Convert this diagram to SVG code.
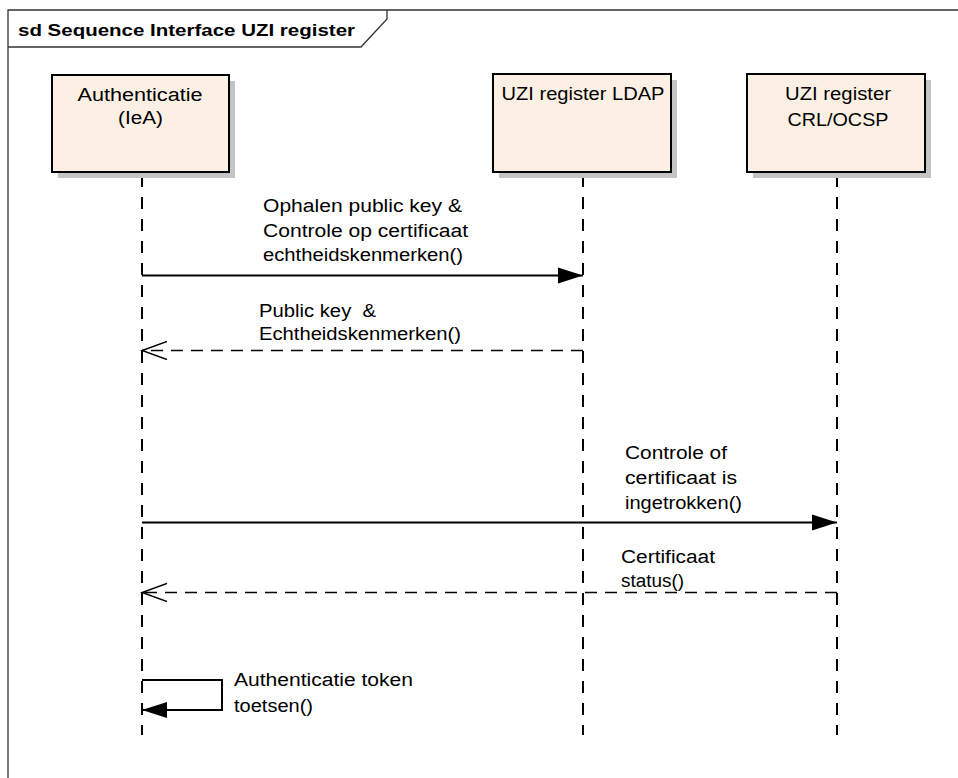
<svg xmlns="http://www.w3.org/2000/svg" width="958" height="778" viewBox="0 0 958 778">
<style>
  .t{font-family:"Liberation Sans",Arial,sans-serif;font-size:18px;fill:#000}
  .title{font-family:"Liberation Sans",Arial,sans-serif;font-size:17px;font-weight:bold;fill:#000}
  .box{fill:#FBF0E3;stroke:#000;stroke-width:2}
  .shadow{fill:#C4C4C4}
  .life{stroke:#000;stroke-width:2;stroke-dasharray:12 10;fill:none}
  .msg{stroke:#000;stroke-width:2;fill:none}
  .ret{stroke:#000;stroke-width:1.6;stroke-dasharray:12 8;fill:none}
  .frame{stroke:#333;stroke-width:1.3;fill:none}
</style>
<defs>
  <marker id="filled" markerUnits="userSpaceOnUse" markerWidth="27" markerHeight="18" refX="25" refY="8.5" orient="auto">
    <path d="M0,0.5 L25,8.5 L0,16.5 z" fill="#000"/>
  </marker>
  <marker id="open" markerUnits="userSpaceOnUse" markerWidth="27" markerHeight="20" refX="25" refY="9.5" orient="auto">
    <path d="M0,0.5 L25,9.5 L0,18.5" fill="none" stroke="#000" stroke-width="1.5"/>
  </marker>
</defs>
<rect width="958" height="778" fill="#fff"/>
<g id="frame">
  <path class="frame" d="M8,778 L8,10 L958,10"/>
  <path class="frame" d="M8,47 L361,47 L387,19 L387,10"/>
  <text class="title" x="18" y="36" textLength="337" lengthAdjust="spacingAndGlyphs">sd Sequence Interface UZI register</text>
</g>
<g id="lifelines">
  <line class="life" x1="142" y1="175" x2="142" y2="735"/>
  <line class="life" x1="583" y1="175" x2="583" y2="735"/>
  <line class="life" x1="837" y1="175" x2="837" y2="735"/>
</g>
<g id="node-authenticatie">
  <rect class="shadow" x="58" y="81" width="177" height="97"/>
  <rect class="box" x="52" y="75" width="177" height="97"/>
  <text class="t" x="140" y="101" text-anchor="middle" textLength="125" lengthAdjust="spacingAndGlyphs">Authenticatie</text>
  <text class="t" x="140.5" y="124" text-anchor="middle" textLength="45" lengthAdjust="spacingAndGlyphs">(IeA)</text>
</g>
<g id="node-ldap">
  <rect class="shadow" x="499" y="80" width="178" height="98"/>
  <rect class="box" x="493" y="74" width="178" height="98"/>
  <text class="t" x="583" y="99.5" text-anchor="middle" textLength="163" lengthAdjust="spacingAndGlyphs">UZI register LDAP</text>
</g>
<g id="node-crl">
  <rect class="shadow" x="753" y="80" width="178" height="98"/>
  <rect class="box" x="747" y="74" width="178" height="98"/>
  <text class="t" x="838" y="99.5" text-anchor="middle" textLength="106" lengthAdjust="spacingAndGlyphs">UZI register</text>
  <text class="t" x="838" y="126" text-anchor="middle" textLength="101" lengthAdjust="spacingAndGlyphs">CRL/OCSP</text>
</g>
<g id="connectors">
  <line class="msg" x1="142" y1="275.5" x2="583" y2="275.5" marker-end="url(#filled)"/>
  <line class="ret" x1="583" y1="350.5" x2="142" y2="350.5" marker-end="url(#open)"/>
  <line class="msg" x1="142" y1="522.5" x2="837" y2="522.5" marker-end="url(#filled)"/>
  <line class="ret" x1="837" y1="592.5" x2="142" y2="592.5" marker-end="url(#open)"/>
  <path class="msg" d="M142,680 L222,680 L222,710 L142,710" marker-end="url(#filled)"/>
</g>
<g id="labels">
  <text class="t" x="263" y="212" textLength="199" lengthAdjust="spacingAndGlyphs">Ophalen public key &amp;</text>
  <text class="t" x="263" y="236.5" textLength="205" lengthAdjust="spacingAndGlyphs">Controle op certificaat</text>
  <text class="t" x="263" y="261" textLength="200" lengthAdjust="spacingAndGlyphs">echtheidskenmerken()</text>
  <text class="t" x="259" y="317" textLength="117" lengthAdjust="spacingAndGlyphs" xml:space="preserve">Public key  &amp;</text>
  <text class="t" x="259" y="339.5" textLength="202" lengthAdjust="spacingAndGlyphs">Echtheidskenmerken()</text>
  <text class="t" x="625" y="458.5" textLength="102" lengthAdjust="spacingAndGlyphs">Controle of</text>
  <text class="t" x="625" y="484" textLength="112" lengthAdjust="spacingAndGlyphs">certificaat is</text>
  <text class="t" x="625" y="509" textLength="117" lengthAdjust="spacingAndGlyphs">ingetrokken()</text>
  <text class="t" x="621" y="562.5" textLength="94" lengthAdjust="spacingAndGlyphs">Certificaat</text>
  <text class="t" x="621" y="587" textLength="63" lengthAdjust="spacingAndGlyphs">status()</text>
  <text class="t" x="234" y="686" textLength="179" lengthAdjust="spacingAndGlyphs">Authenticatie token</text>
  <text class="t" x="234" y="712" textLength="79" lengthAdjust="spacingAndGlyphs">toetsen()</text>
</g>
</svg>
